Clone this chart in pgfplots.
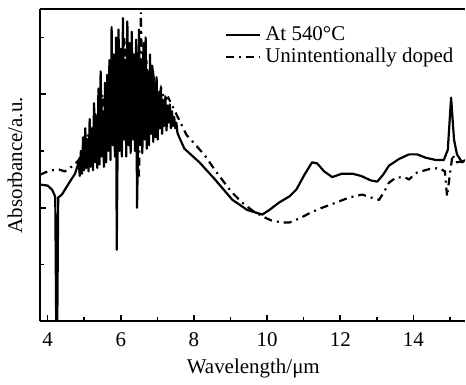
\documentclass[border=0pt]{standalone}
\usepackage{pgfplots}
\pgfplotsset{compat=1.18}
\usepackage{fontspec}
\setmainfont{Liberation Serif}
\begin{document}
\begin{tikzpicture}
\begin{axis}[
  scale only axis,
  width=213pt, height=156.5pt,
  xmin=3.79, xmax=15.41, ymin=0, ymax=2.75,
  axis x line=box, axis y line=left,
  axis line style={-, line width=1pt},
  xtick={4,6,8,10,12,14}, minor xtick={5,7,9,11,13,15},
  ytick={1,2}, minor ytick={0.5,1.5,2.5},
  yticklabels={},
  xtick pos=left,
  tick align=inside,
  major tick length=3pt, minor tick length=2pt,
  tick style={line width=0.8pt, black},
  /pgf/number format/assume math mode=true,
  tick label style={font=\fontsize{10.5}{12}\selectfont},
  xticklabel style={yshift=-2pt},
  label style={font=\fontsize{10.5}{12}\selectfont},
  xlabel={Wavelength/μm},
  ylabel={Absorbance/a.u.},
  xlabel style={at={(axis description cs:0.502,-0.152)}, anchor=center},
  ylabel style={at={(axis description cs:-0.0587,0.5)}, anchor=center},
  legend style={draw=none, fill=none, at={(0.43,0.965)}, anchor=north west,
    font=\fontsize{10.5}{12}\selectfont, row sep=-1.5pt, inner sep=1pt},
  legend cell align=left,
]
\addplot[black, line width=1.1pt, line join=round] coordinates {
(3.79,1.204) (4.00,1.195) (4.12,1.16) (4.18,1.12) (4.21,1.09)
(4.235,0.0) (4.265,0.0) (4.29,1.09) (4.39,1.116) (4.61,1.23) (4.75,1.30)
(4.85,1.40) (4.88,1.28) (4.91,1.50) (4.93,1.38) (4.94,1.30) (4.97,1.62) (5.00,1.33)
(5.03,1.70) (5.05,1.50) (5.06,1.35) (5.09,1.60) (5.12,1.32) (5.15,1.78) (5.18,1.36)
(5.21,1.70) (5.24,1.33) (5.27,1.92) (5.29,1.60) (5.30,1.40) (5.33,1.80) (5.36,1.35)
(5.39,2.05) (5.42,1.38) (5.45,2.20) (5.47,1.75) (5.48,1.45) (5.51,1.85) (5.54,1.36)
(5.57,2.10) (5.60,1.40) (5.63,2.17) (5.66,1.50) (5.69,2.30) (5.72,1.42)
(5.75,2.59) (5.77,2.00) (5.78,1.55) (5.81,2.35) (5.84,1.45) (5.87,2.50) (5.89,0.63)
(5.91,1.40) (5.94,2.57) (5.97,1.50) (6.00,2.40) (6.02,1.90) (6.03,1.45) (6.06,2.67)
(6.09,1.60) (6.12,2.30) (6.15,1.45) (6.18,2.64) (6.20,2.10) (6.21,1.55) (6.24,2.45)
(6.27,1.48) (6.30,2.55) (6.33,1.60) (6.36,2.35) (6.39,1.50) (6.42,2.48)
(6.445,1.00) (6.47,1.50) (6.50,2.57) (6.53,1.55) (6.56,2.30) (6.59,1.48)
(6.62,2.45) (6.64,2.00) (6.65,1.60) (6.68,2.50) (6.71,1.52) (6.74,2.20) (6.77,1.55)
(6.80,2.35) (6.83,1.65) (6.86,2.25) (6.89,1.58) (6.92,2.10) (6.95,1.62)
(6.98,2.15) (7.01,1.60) (7.04,2.02) (7.07,1.70) (7.10,2.06) (7.13,1.65)
(7.16,1.95) (7.19,1.72) (7.22,1.98) (7.25,1.68) (7.28,1.90) (7.31,1.75)
(7.34,1.91) (7.37,1.70) (7.40,1.85) (7.43,1.72) (7.46,1.80) (7.49,1.70)
(7.52,1.75) (7.55,1.66) (7.60,1.62) (7.74,1.52)
(8.15,1.40) (8.56,1.255) (9.05,1.07) (9.46,0.98) (9.87,0.94)
(10.06,0.98) (10.33,1.046) (10.61,1.10) (10.80,1.16) (11.02,1.29)
(11.23,1.40) (11.37,1.39) (11.56,1.32) (11.78,1.27) (12.05,1.30)
(12.33,1.30) (12.57,1.28) (12.84,1.24) (13.01,1.23) (13.17,1.29)
(13.33,1.37) (13.61,1.43) (13.88,1.47) (14.10,1.47) (14.34,1.44)
(14.62,1.42) (14.83,1.42) (14.94,1.51) (15.03,1.97) (15.11,1.60)
(15.19,1.47) (15.33,1.40) (15.41,1.42)
};
\addlegendentry{At 540°C}
\addplot[black, line width=1.1pt, dash pattern=on 4pt off 2.5pt on 1pt off 2.5pt] coordinates {
(3.79,1.29) (4.00,1.32) (4.28,1.34) (4.47,1.32) (4.74,1.38) (4.85,1.42)
(5.0,1.50) (5.1,1.65) (5.2,1.50) (5.3,1.85) (5.4,1.55) (5.5,2.00)
(5.6,1.60) (5.7,2.20) (5.8,1.65) (5.9,2.40) (6.0,1.70) (6.1,2.50)
(6.2,1.70) (6.3,2.40) (6.4,1.80) (6.5,1.27) (6.55,2.72) (6.6,1.85)
(6.7,2.30) (6.8,1.80) (6.9,2.15) (7.0,1.90) (7.1,2.05) (7.2,1.95)
(7.3,1.97) (7.45,1.87) (7.6,1.77) (7.8,1.64) (8.0,1.57) (8.3,1.46)
(8.6,1.32) (9.0,1.15) (9.3,1.05) (9.6,0.975) (9.9,0.92) (10.1,0.89)
(10.4,0.87) (10.61,0.87) (10.88,0.905) (11.15,0.95) (11.42,0.99)
(11.89,1.046) (12.24,1.09) (12.6,1.116) (12.84,1.09) (13.06,1.07)
(13.2,1.14) (13.33,1.22) (13.52,1.265) (13.74,1.27) (13.88,1.25)
(14.1,1.31) (14.43,1.34) (14.7,1.35) (14.86,1.32) (14.92,1.10)
(14.98,1.25) (15.07,1.47) (15.16,1.40) (15.41,1.41)
};
\addlegendentry{Unintentionally doped}
\end{axis}
\path ([yshift=4.5pt]current axis.north west);
\path ([xshift=-20pt,yshift=-27pt]current axis.south west);
\end{tikzpicture}
\end{document}
